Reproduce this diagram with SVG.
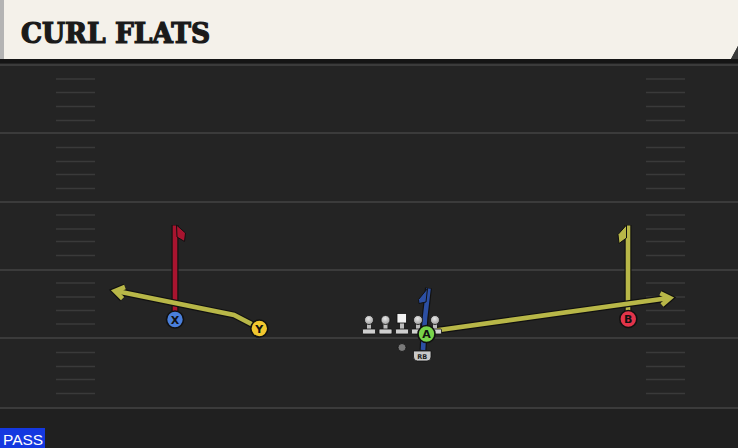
<svg xmlns="http://www.w3.org/2000/svg" width="738" height="448" viewBox="0 0 738 448">
<defs>
<style>
.yard{stroke:#3b3b3b;stroke-width:2}
.hash{stroke:#3a3a3a;stroke-width:1.6}
.out{fill:none;stroke:#111;stroke-width:7;stroke-linejoin:miter}
.rt{fill:none;stroke-width:4.6;stroke-linejoin:miter}
.red{stroke:#a8142f}
.yel{stroke:#b8b748}
.blu{stroke:#2c4fa3}
.flag{stroke:#111;stroke-width:1;stroke-linejoin:round}
.pc{stroke:#111;stroke-width:1.6}
.pl{font-family:"DejaVu Sans","Liberation Sans",sans-serif;font-weight:bold;font-size:11px;fill:#111;text-anchor:middle}
</style>
<radialGradient id="head" cx="0.45" cy="0.35" r="0.7">
<stop offset="0" stop-color="#e8e8e8"/><stop offset="1" stop-color="#9a9a9a"/>
</radialGradient>
<g id="lineman">
<rect x="-2" y="-4" width="4" height="10" fill="#bdbdbd"/>
<rect x="-6.5" y="5" width="13" height="5" rx="1" fill="#cfcfcf" stroke="#111" stroke-width="0.8"/>
<circle cx="0" cy="-4" r="4.5" fill="url(#head)" stroke="#111" stroke-width="0.8"/>
</g>
</defs>
<rect width="738" height="448" fill="#242424"/>
<rect y="408" width="738" height="40" fill="#202020"/>
<g id="field">
<line class="yard" x1="0" y1="65" x2="738" y2="65"/>
<line class="yard" x1="0" y1="133" x2="738" y2="133"/>
<line class="yard" x1="0" y1="202" x2="738" y2="202"/>
<line class="yard" x1="0" y1="270" x2="738" y2="270"/>
<line class="yard" x1="0" y1="338" x2="738" y2="338"/>
<line class="yard" x1="0" y1="408" x2="738" y2="408"/>
<g id="hashL">
<line class="hash" x1="56" y1="79" x2="95" y2="79"/><line class="hash" x1="56" y1="92.5" x2="95" y2="92.5"/><line class="hash" x1="56" y1="106.5" x2="95" y2="106.5"/><line class="hash" x1="56" y1="120.5" x2="95" y2="120.5"/>
<line class="hash" x1="56" y1="147.5" x2="95" y2="147.5"/><line class="hash" x1="56" y1="161.5" x2="95" y2="161.5"/><line class="hash" x1="56" y1="174.5" x2="95" y2="174.5"/><line class="hash" x1="56" y1="188.5" x2="95" y2="188.5"/>
<line class="hash" x1="56" y1="215" x2="95" y2="215"/><line class="hash" x1="56" y1="229" x2="95" y2="229"/><line class="hash" x1="56" y1="241.5" x2="95" y2="241.5"/><line class="hash" x1="56" y1="255.5" x2="95" y2="255.5"/>
<line class="hash" x1="56" y1="283" x2="95" y2="283"/><line class="hash" x1="56" y1="297" x2="95" y2="297"/><line class="hash" x1="56" y1="310.5" x2="95" y2="310.5"/><line class="hash" x1="56" y1="324" x2="95" y2="324"/>
<line class="hash" x1="56" y1="352.5" x2="95" y2="352.5"/><line class="hash" x1="56" y1="366.5" x2="95" y2="366.5"/><line class="hash" x1="56" y1="379.5" x2="95" y2="379.5"/><line class="hash" x1="56" y1="393.5" x2="95" y2="393.5"/>
</g>
<use href="#hashL" x="590"/>
</g>
<g id="header">
<rect x="0" y="59" width="738" height="4" fill="#151515"/>
<path d="M0,0 H738 V46 L731,59 H0 Z" fill="#f4f1ea"/>
<path d="M738,46 L731,59 H738 Z" fill="#3a3a3a"/>
<rect x="0" y="0" width="4" height="59" fill="#b4b4b4"/>
<text x="21" y="42.5" font-family="DejaVu Serif Condensed, DejaVu Serif, Liberation Serif, serif" font-weight="bold" font-size="28" fill="#1a1a1a" stroke="#1a1a1a" stroke-width="1.2" textLength="189" lengthAdjust="spacingAndGlyphs">CURL FLATS</text>
</g>
<g id="connectors">
<polyline class="out" points="175,318 175,225"/>
<polyline class="rt red" points="175,318 175,225.5"/>
<polygon class="flag" fill="#a8142f" points="176.5,225 185.5,233 184.5,241.5 177,237"/>
<polyline class="out" points="259,328 234,315 116,291"/>
<polyline class="out" points="125,287 115,291 122.6,298.7"/>
<polyline class="rt yel" points="259,328 234,315 116,291"/>
<polyline class="rt yel" points="125,287 115,291 122.6,298.7"/>
<polyline class="out" points="628,318 628,225"/>
<polyline class="rt yel" points="628,318 628,225.5"/>
<polygon class="flag" fill="#b8b748" points="626.5,225 618,234.5 619,243.5 626.5,238"/>
<polyline class="out" points="432,331 669,298"/>
<polyline class="out" points="660.3,293.3 670,298 661.9,305.1"/>
<polyline class="rt yel" points="432,331 669,298"/>
<polyline class="rt yel" points="660.3,293.3 670,298 661.9,305.1"/>
<polyline class="out" points="423,350 425,318 428.5,288"/>
<polyline class="rt blu" points="423,350 425,318 428.5,288.5"/>
<polygon class="flag" fill="#2c4fa3" points="427.5,288.5 418.5,299.5 419,303.5 426,302"/>
</g>
<g id="line">
<use href="#lineman" x="369" y="324"/>
<use href="#lineman" x="385.5" y="324"/>
<g id="center">
<rect x="400" y="322" width="4" height="8" fill="#bdbdbd"/>
<rect x="395.5" y="329" width="13" height="5" rx="1" fill="#cfcfcf" stroke="#111" stroke-width="0.8"/>
<rect x="397" y="313.5" width="9.5" height="9.5" fill="#f2f2f2" stroke="#111" stroke-width="0.8"/>
</g>
<use href="#lineman" x="418" y="324"/>
<use href="#lineman" x="435" y="324"/>
</g>
<g id="qb"><circle cx="402" cy="347.5" r="4" fill="#7a7a7a" stroke="#111" stroke-width="0.8"/></g>
<g id="rb">
<path d="M413.5,351 H431 V357 Q431,361 427,361 H417.5 Q413.5,361 413.5,357 Z" fill="#c9c9c9" stroke="#111" stroke-width="0.8"/>
<text x="422.3" y="359" font-family="DejaVu Sans, Liberation Sans, sans-serif" font-weight="bold" font-size="6.5" fill="#222" text-anchor="middle">RB</text>
</g>
<g id="X"><circle class="pc" cx="175" cy="319.5" r="8.5" fill="#4a7fdb"/><text class="pl" x="175" y="323.5">X</text></g>
<g id="Y"><circle class="pc" cx="259.3" cy="328.5" r="8.5" fill="#f1c72f"/><text class="pl" x="259.3" y="332.5">Y</text></g>
<g id="A"><circle class="pc" cx="426.5" cy="334" r="8.5" fill="#78d34a"/><text class="pl" x="426.5" y="338">A</text></g>
<g id="B"><circle class="pc" cx="628.3" cy="319" r="8.5" fill="#e3344a"/><text class="pl" x="628.3" y="323">B</text></g>
<g id="pass">
<rect x="0" y="428" width="45" height="20" fill="#1438e0"/>
<text x="3" y="444.5" font-family="Liberation Sans, Arial, sans-serif" font-size="15.5" fill="#ffffff">PASS</text>
</g>
</svg>
